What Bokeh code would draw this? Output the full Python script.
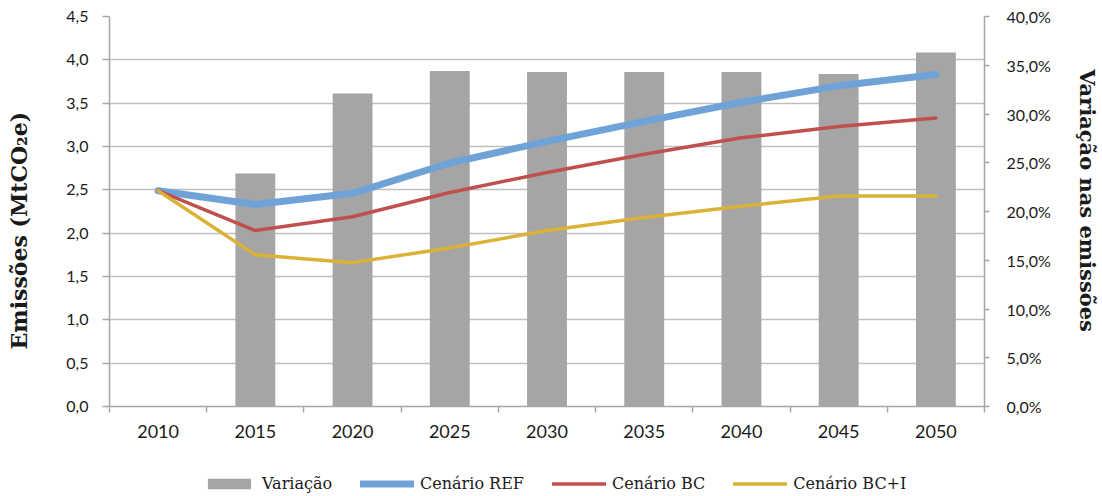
from bokeh.plotting import figure
from bokeh.layouts import column
from bokeh.models import (Range1d, LinearAxis, FixedTicker, CustomJSTickFormatter,
                          Legend, LegendItem, ColumnDataSource)
from bokeh.embed import file_html
from bokeh.resources import INLINE

years = ["2010", "2015", "2020", "2025", "2030", "2035", "2040", "2045", "2050"]
variacao = [0.0, 23.9, 32.1, 34.4, 34.3, 34.3, 34.3, 34.1, 36.3]
ref = [2.49, 2.33, 2.46, 2.81, 3.06, 3.29, 3.51, 3.70, 3.83]
bc = [2.49, 2.03, 2.19, 2.47, 2.70, 2.91, 3.10, 3.23, 3.33]
bci = [2.49, 1.75, 1.66, 1.83, 2.03, 2.18, 2.31, 2.43, 2.43]
left_ticks = [0, 0.5, 1, 1.5, 2, 2.5, 3, 3.5, 4, 4.5]
right_ticks = [0, 5, 10, 15, 20, 25, 30, 35, 40]

xpos = [i + 0.5 for i in range(len(years))]
src = ColumnDataSource(dict(x=xpos, var=variacao, ref=ref, bc=bc, bci=bci))

GRID = "#bfbfbf"
AX = "#a6a6a6"
TICKFONT = "Lato"
TITLEFONT = "DejaVu Serif"
C_BAR, C_REF, C_BC, C_BCI = "#a5a5a5", "#6fa3d8", "#c0504d", "#dbb136"
NB = "\u00a0"

p = figure(width=1102, height=456, output_backend="svg", toolbar_location=None,
           x_range=Range1d(0, len(years)), y_range=Range1d(0, 4.5),
           min_border_left=109, min_border_right=118, min_border_top=16, min_border_bottom=50)
p.outline_line_color = None
p.background_fill_color = "white"
p.border_fill_color = "white"
p.extra_y_ranges = {"pct": Range1d(0, 40)}

p.vbar(x="x", top="var", width=0.41, source=src, y_range_name="pct",
       fill_color=C_BAR, line_color=None)
p.line("x", "ref", source=src, line_color=C_REF, line_width=7,
       line_join="round", line_cap="round")
p.line("x", "bc", source=src, line_color=C_BC, line_width=3.5,
       line_join="round", line_cap="round")
p.line("x", "bci", source=src, line_color=C_BCI, line_width=3.5,
       line_join="round", line_cap="round")

# x axis
xa = p.xaxis[0]
xa.ticker = FixedTicker(ticks=xpos, minor_ticks=list(range(len(years) + 1)))
xa.formatter = CustomJSTickFormatter(args=dict(labels=years),
                                     code="return labels[Math.floor(tick)];")
xa.major_tick_line_color = None
xa.minor_tick_line_color = AX
xa.minor_tick_line_width = 1.5
xa.minor_tick_out = 6
xa.minor_tick_in = 0
xa.axis_line_color = AX
xa.axis_line_width = 1.5
xa.major_label_text_font = TICKFONT
xa.major_label_text_font_size = "18px"
xa.major_label_text_color = "#1a1a1a"
xa.major_label_standoff = 12

# left y axis
ya = p.yaxis[0]
ya.ticker = FixedTicker(ticks=left_ticks, minor_ticks=[])
ya.formatter = CustomJSTickFormatter(code="return tick.toFixed(1).replace('.', ',');")
ya.axis_line_color = AX
ya.axis_line_width = 1.5
ya.major_tick_line_color = AX
ya.major_tick_line_width = 1.5
ya.major_tick_out = 7
ya.major_tick_in = 0
ya.minor_tick_line_color = None
ya.major_label_text_font = TICKFONT
ya.major_label_text_font_size = "16px"
ya.major_label_text_color = "#1a1a1a"
ya.major_label_standoff = 14
ya.axis_label = "Emissões (MtCO₂e)" + NB * 5
ya.axis_label_text_font = TITLEFONT
ya.axis_label_text_font_style = "bold"
ya.axis_label_text_font_size = "22px"
ya.axis_label_text_color = "#1a1a1a"
ya.axis_label_standoff = 31

# right y axis
ra = LinearAxis(y_range_name="pct")
ra.ticker = FixedTicker(ticks=right_ticks, minor_ticks=[])
ra.formatter = CustomJSTickFormatter(code="return tick.toFixed(1).replace('.', ',') + '%';")
ra.axis_line_color = AX
ra.axis_line_width = 1.5
ra.major_tick_line_color = AX
ra.major_tick_line_width = 1.5
ra.major_tick_out = 5
ra.major_tick_in = 0
ra.minor_tick_line_color = None
ra.major_label_text_font = TICKFONT
ra.major_label_text_font_size = "16px"
ra.major_label_text_color = "#1a1a1a"
ra.major_label_standoff = 17
ra.axis_label = "Variação nas emissões" + NB * 3
ra.axis_label_text_font = TITLEFONT
ra.axis_label_text_font_style = "bold"
ra.axis_label_text_font_size = "21px"
ra.axis_label_text_color = "#1a1a1a"
ra.axis_label_standoff = 21
p.add_layout(ra, "right")

p.xgrid.visible = False
p.ygrid.grid_line_color = GRID
p.ygrid.grid_line_width = 1.5

# legend strip below the chart (its range shows none of the data; it only hosts the legend)
q = figure(width=1102, height=40, output_backend="svg", toolbar_location=None,
           x_range=Range1d(0, len(years)), y_range=Range1d(100, 101),
           x_axis_location=None, y_axis_location=None,
           min_border_left=109, min_border_right=118, min_border_top=0, min_border_bottom=0)
q.outline_line_color = None
q.xgrid.visible = False
q.ygrid.visible = False
q.background_fill_color = "white"
q.border_fill_color = "white"
g_bar = q.vbar(x="x", top="var", width=0.41, source=src, fill_color=C_BAR, line_color=None)
g_ref = q.line("x", "ref", source=src, line_color=C_REF, line_width=7, line_cap="round")
g_bc = q.line("x", "bc", source=src, line_color=C_BC, line_width=3.5, line_cap="round")
g_bci = q.line("x", "bci", source=src, line_color=C_BCI, line_width=3.5, line_cap="round")

legend = Legend(items=[
    LegendItem(label="Variação", renderers=[g_bar]),
    LegendItem(label="Cenário REF", renderers=[g_ref]),
    LegendItem(label="Cenário BC", renderers=[g_bc]),
    LegendItem(label="Cenário BC+I", renderers=[g_bci]),
], orientation="horizontal", location=(93, 3))
legend.border_line_color = None
legend.background_fill_alpha = 0
legend.padding = 0
legend.margin = 0
legend.spacing = 28
legend.glyph_width = 54
legend.glyph_height = 13
legend.label_standoff = 6
legend.label_text_font = TITLEFONT
legend.label_text_font_size = "16px"
legend.label_text_color = "#1a1a1a"
q.add_layout(legend, "center")

layout = column(p, q, spacing=0)
open("out.html", "w").write(file_html(layout, INLINE))
